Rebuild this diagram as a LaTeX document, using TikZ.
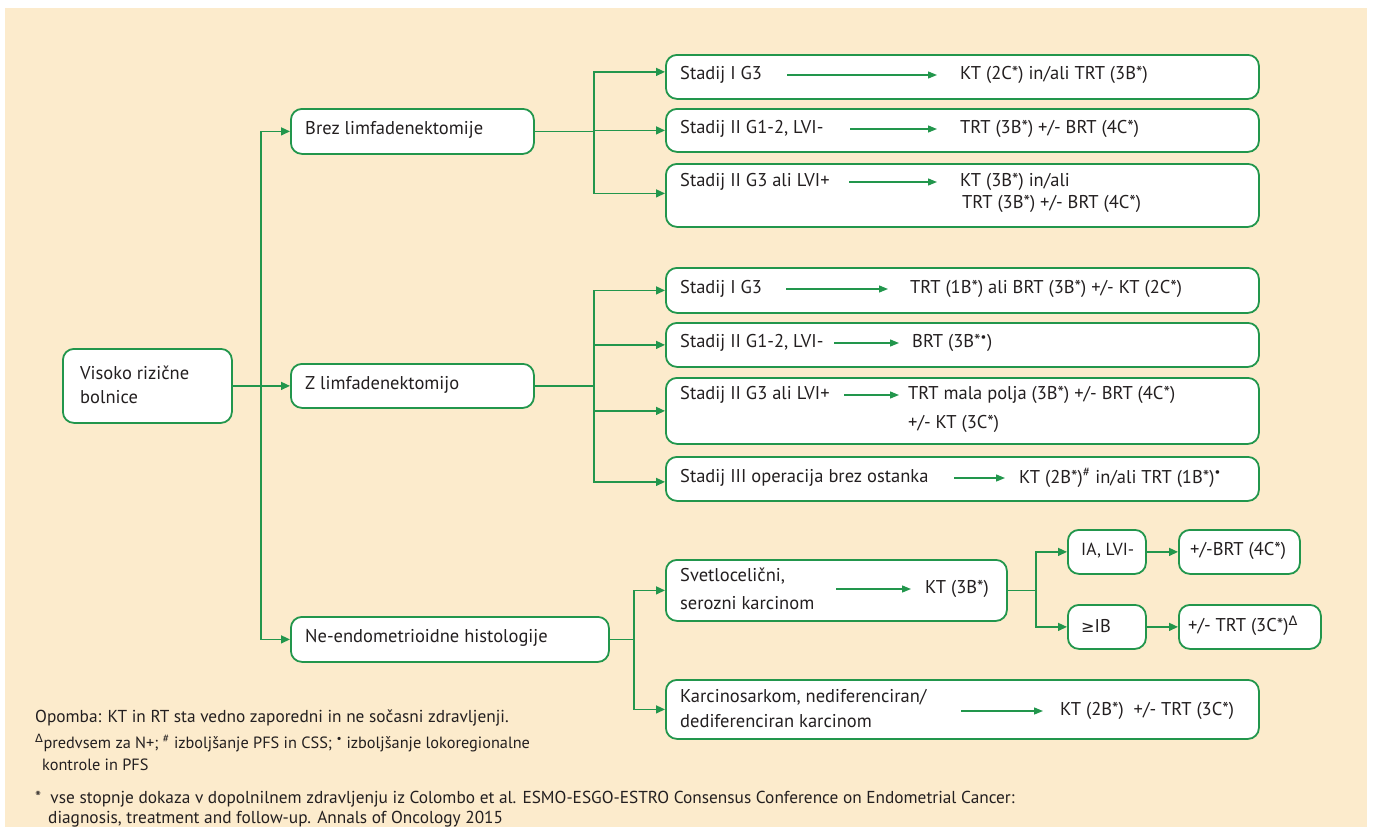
\documentclass[tikz,border=0pt]{standalone}
\usepackage{fontspec}
\setmainfont{PT Sans}
\newfontfamily\symf{DejaVu Sans}
\usetikzlibrary{arrows.meta}
\definecolor{grn}{RGB}{34,150,76}
\definecolor{bgc}{RGB}{252,235,204}
\definecolor{txt}{RGB}{35,31,32}
\tikzset{
  box/.style={draw=grn, line width=1.8pt, rounded corners=11pt, fill=white, anchor=north west, inner sep=0pt},
  conn/.style={draw=grn, line width=1.4pt},
  arr/.style={conn, -{Triangle[length=9pt,width=8pt]}},
  iarr/.style={draw=grn, line width=1.3pt, -{Triangle[length=9pt,width=7pt]}},
  lt/.style={anchor=west, inner sep=0pt, text=txt, font=\fontsize{18.5}{21}\selectfont, align=left},
  res/.style={anchor=west, inner xsep=13pt, inner ysep=0pt, text=txt, font=\fontsize{18.5}{21}\selectfont},
  fn/.style={anchor=west, inner sep=0pt, text=txt, font=\fontsize{17.3}{20}\selectfont}
}
\begin{document}
\begin{tikzpicture}[x=1pt,y=-1pt]
\useasboundingbox (0,0) rectangle (1373,827);
\fill[white] (0,0) rectangle (1373,827);
\fill[bgc] (5,8) rectangle (1367,827);

% boxes
\node[box, minimum width=169pt, minimum height=74pt] (vis) at (62,348) {};
\node[box, minimum width=243pt, minimum height=45pt] (brez) at (290,108) {};
\node[box, minimum width=243pt, minimum height=44pt] (zlim) at (290,363) {};
\node[box, minimum width=318pt, minimum height=45pt] (ne) at (290,616) {};
\node[box, minimum width=593pt, minimum height=44pt] (b1) at (665,54) {};
\node[box, minimum width=593pt, minimum height=43pt] (b2) at (665,108) {};
\node[box, minimum width=593pt, minimum height=63pt] (b3) at (665,163) {};
\node[box, minimum width=593pt, minimum height=45pt] (b4) at (665,267) {};
\node[box, minimum width=593pt, minimum height=44pt] (b5) at (665,322) {};
\node[box, minimum width=593pt, minimum height=66pt] (b6) at (665,377) {};
\node[box, minimum width=593pt, minimum height=44pt] (b7) at (665,456) {};
\node[box, minimum width=341pt, minimum height=61pt] (b8) at (665,559) {};
\node[box, minimum width=78pt, minimum height=44pt] (ia) at (1067,529) {};
\node[box, minimum width=121pt, minimum height=44pt] (brt4) at (1178,529) {};
\node[box, minimum width=78pt, minimum height=44pt] (ib) at (1067,604) {};
\node[box, minimum width=142pt, minimum height=44pt] (trt3) at (1178,604) {};
\node[box, minimum width=593pt, minimum height=59pt] (b9) at (665,679) {};

% box texts
\node[lt, font=\fontsize{18.5}{24}\selectfont] (tvis) at (80,385) {Visoko rizične\\bolnice};
\node[lt] (tbrez) at (305,130) {Brez limfadenektomije};
\node[lt] (tzlim) at (305,385) {Z limfadenektomijo};
\node[lt] (tne) at (305,638) {Ne-endometrioidne histologije};

\node[lt] (l1) at (680,75) {Stadij I G3};
\node[lt] (l2) at (680,129) {Stadij II G1-2, LVI-};
\node[lt] (l3) at (680,182) {Stadij II G3 ali LVI+};
\node[lt] (l4) at (680,289) {Stadij I G3};
\node[lt] (l5) at (680,343) {Stadij II G1-2, LVI-};
\node[lt] (l6) at (680,395) {Stadij II G3 ali LVI+};
\node[lt] (l7) at (680,478) {Stadij III operacija brez ostanka};
\node[lt, font=\fontsize{18.5}{28}\selectfont] (l8) at (680,589) {Svetlocelični,\\serozni karcinom};
\node[lt, font=\fontsize{18.5}{25}\selectfont] (l9) at (680,709) {Karcinosarkom, nediferenciran/\\dediferenciran karcinom};
\node[lt, font=\fontsize{17.5}{21}\selectfont] (tia) at (1081,551) {IA, LVI-};
\node[lt] (tbrt4) at (1190,551) {+/-BRT (4C*)};
\node[lt] (tib) at (1081,626) {{\symf\fontsize{16}{18}\selectfont ≥}IB};
\node[lt] (ttrt3) at (1188,626) {+/- TRT (3C*)\textsuperscript{\symf Δ}};

% results
\node[res, inner xsep=23pt] (r1) at (937,75) {KT (2C*) in/ali TRT (3B*)};
\node[res, inner xsep=23pt] (r2) at (937,129) {TRT (3B*) +/- BRT (4C*)};
\node[res, inner xsep=23pt] (r3) at (937,182) {KT (3B*) in/ali};
\node[res, inner xsep=0pt] (r3b) at (962,204) {TRT (3B*) +/- BRT (4C*)};
\node[res, inner xsep=22pt] (r4) at (888,289) {TRT (1B*) ali BRT (3B*) +/- KT (2C*)};
\node[res, inner xsep=13pt] (r5) at (899,343) {BRT (3B*\textsuperscript{•})};
\node[res, inner xsep=9pt] (r6) at (899,395) {TRT mala polja (3B*) +/- BRT (4C*)};
\node[res, inner xsep=0pt] (r6b) at (908,424) {+/- KT (3C*)};
\node[res, inner xsep=14pt] (r7) at (1005,478) {KT (2B*)\textsuperscript{\#} in/ali TRT (1B*)\textsuperscript{•}};
\node[res, inner xsep=14pt] (r8) at (911,589) {KT (3B*)};
\node[res, inner xsep=17pt] (r9) at (1043,711) {KT (2B*) \ +/- TRT (3C*)};

% inner arrows
\coordinate (s1) at (787,75);
\coordinate (s2) at (850,129);
\coordinate (s3) at (849,182);
\coordinate (s4) at (786,289);
\coordinate (s5) at (834,343);
\coordinate (s6) at (844,395);
\coordinate (s7) at (954,478);
\coordinate (s8) at (836,589);
\coordinate (s9) at (961,711);
\draw[iarr] (s1) -- (r1.west);
\draw[iarr] (s2) -- (r2.west);
\draw[iarr] (s3) -- (r3.west);
\draw[iarr] (s4) -- (r4.west);
\draw[iarr] (s5) -- (r5.west);
\draw[iarr] (s6) -- (r6.west);
\draw[iarr] (s7) -- (r7.west);
\draw[iarr] (s8) -- (r8.west);
\draw[iarr] (s9) -- (r9.west);

% main connectors
\draw[arr] (vis.east) -- (zlim.west);
\coordinate (j1) at (261,385);
\draw[arr] (j1) |- (brez.west);
\draw[arr] (j1) |- (ne.west);

\draw[conn] (brez.east) -- ++(59,0) coordinate (j2);
\draw[arr] (j2) |- ([yshift=5pt]b1.west);
\draw[arr] (j2) |- (b2.west);
\draw[arr] (j2) |- ([yshift=2pt]b3.west);

\draw[conn] (zlim.east) -- ++(59,0) coordinate (j3);
\draw[arr] (j3) |- (b4.west);
\draw[arr] (j3) |- (b5.west);
\draw[arr] (j3) |- (b6.west);
\draw[arr] (j3) |- ([yshift=-3pt]b7.west);

\draw[conn] (ne.east) -- ++(24,0) coordinate (j4);
\draw[arr] (j4) |- (b8.west);
\draw[arr] (j4) |- (b9.west);

\draw[conn] (b8.east) -- ++(28,0) coordinate (j5);
\draw[arr] (j5) |- (ia.west);
\draw[arr] (j5) |- (ib.west);
\draw[arr] (ia) -- (brt4);
\draw[arr] (ib) -- (trt3);

% footnotes
\node[fn] (f1) at (35,718) {Opomba: KT in RT sta vedno zaporedni in ne sočasni zdravljenji.};
\node[fn, font=\fontsize{16.3}{20}\selectfont] (f2) at (35,743) {\textsuperscript{\symf Δ}predvsem za N+; \textsuperscript{\#} izboljšanje PFS in CSS; \textsuperscript{•} izboljšanje lokoregionalne};
\node[fn, font=\fontsize{16.3}{20}\selectfont] (f3) at (42,765) {kontrole in PFS};
\node[fn] (f4) at (35,799) {* \ vse stopnje dokaza v dopolnilnem zdravljenju iz Colombo et al. ESMO-ESGO-ESTRO Consensus Conference on Endometrial Cancer:};
\node[fn] (f5) at (48,819) {diagnosis, treatment and follow-up. Annals of Oncology 2015};
\end{tikzpicture}
\end{document}
